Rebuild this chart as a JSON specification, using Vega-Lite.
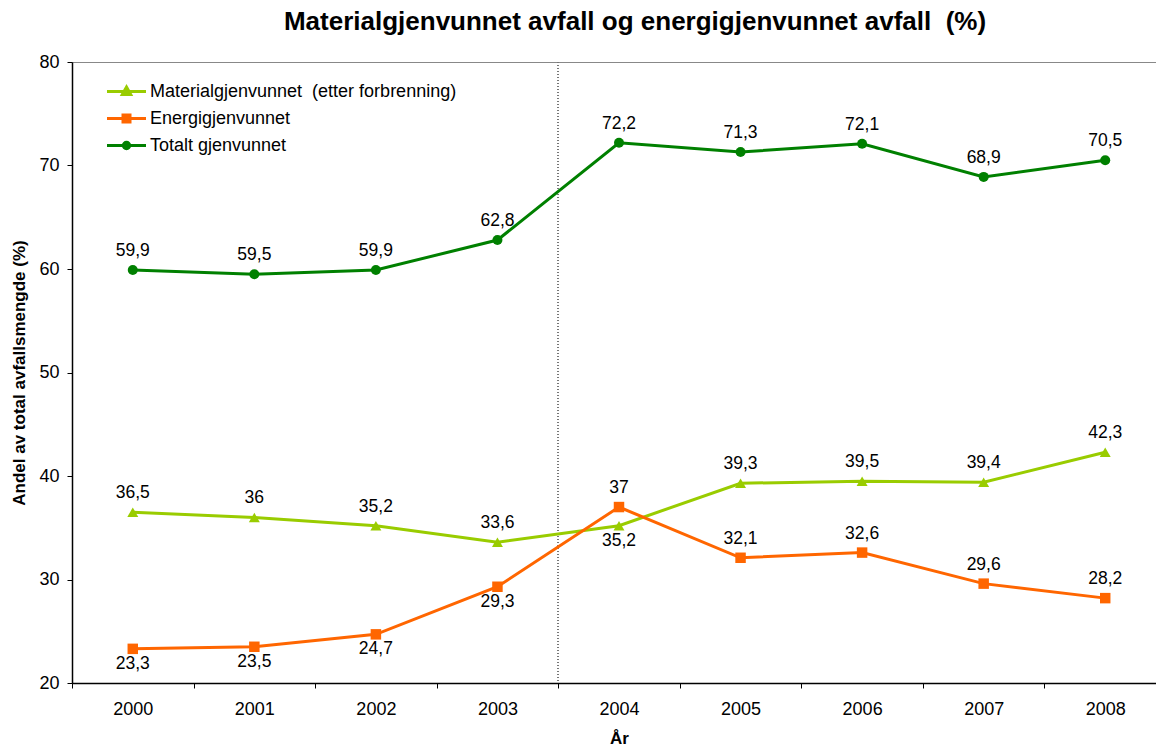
{
  "$schema": "https://vega.github.io/schema/vega-lite/v6.json",
  "autosize": "none",
  "width": 1084,
  "height": 621,
  "padding": {"left": 72, "top": 62, "right": 0, "bottom": 64},
  "background": "white",
  "config": {
    "font": "Liberation Sans",
    "view": {"stroke": "#888888", "strokeWidth": 1},
    "axis": {"labelFont": "Liberation Sans", "titleFont": "Liberation Sans", "labelColor": "black", "titleColor": "black", "domainColor": "black", "tickColor": "black", "grid": false, "labelFontSize": 18, "titleFontSize": 17, "titleFontWeight": "bold", "tickSize": 5, "domainWidth": 1.5}
  },
  "title": {"text": "Materialgjenvunnet avfall og energigjenvunnet avfall \u00a0(%)", "fontSize": 26, "fontWeight": "bold", "font": "Liberation Sans", "color": "black", "anchor": "middle", "dx": 21, "offset": 18},
  "resolve": {"legend": {"color": "independent", "shape": "independent", "size": "independent"}},
  "data": {"values": [
    {"year": "2000", "series": "Materialgjenvunnet \u00a0(etter forbrenning)", "value": 36.5, "label": "36,5"},
    {"year": "2001", "series": "Materialgjenvunnet \u00a0(etter forbrenning)", "value": 36.0, "label": "36"},
    {"year": "2002", "series": "Materialgjenvunnet \u00a0(etter forbrenning)", "value": 35.2, "label": "35,2"},
    {"year": "2003", "series": "Materialgjenvunnet \u00a0(etter forbrenning)", "value": 33.6, "label": "33,6"},
    {"year": "2004", "series": "Materialgjenvunnet \u00a0(etter forbrenning)", "value": 35.2, "label": "35,2"},
    {"year": "2005", "series": "Materialgjenvunnet \u00a0(etter forbrenning)", "value": 39.3, "label": "39,3"},
    {"year": "2006", "series": "Materialgjenvunnet \u00a0(etter forbrenning)", "value": 39.5, "label": "39,5"},
    {"year": "2007", "series": "Materialgjenvunnet \u00a0(etter forbrenning)", "value": 39.4, "label": "39,4"},
    {"year": "2008", "series": "Materialgjenvunnet \u00a0(etter forbrenning)", "value": 42.3, "label": "42,3"},
    {"year": "2000", "series": "Energigjenvunnet", "value": 23.3, "label": "23,3"},
    {"year": "2001", "series": "Energigjenvunnet", "value": 23.5, "label": "23,5"},
    {"year": "2002", "series": "Energigjenvunnet", "value": 24.7, "label": "24,7"},
    {"year": "2003", "series": "Energigjenvunnet", "value": 29.3, "label": "29,3"},
    {"year": "2004", "series": "Energigjenvunnet", "value": 37.0, "label": "37"},
    {"year": "2005", "series": "Energigjenvunnet", "value": 32.1, "label": "32,1"},
    {"year": "2006", "series": "Energigjenvunnet", "value": 32.6, "label": "32,6"},
    {"year": "2007", "series": "Energigjenvunnet", "value": 29.6, "label": "29,6"},
    {"year": "2008", "series": "Energigjenvunnet", "value": 28.2, "label": "28,2"},
    {"year": "2000", "series": "Totalt gjenvunnet", "value": 59.9, "label": "59,9"},
    {"year": "2001", "series": "Totalt gjenvunnet", "value": 59.5, "label": "59,5"},
    {"year": "2002", "series": "Totalt gjenvunnet", "value": 59.9, "label": "59,9"},
    {"year": "2003", "series": "Totalt gjenvunnet", "value": 62.8, "label": "62,8"},
    {"year": "2004", "series": "Totalt gjenvunnet", "value": 72.2, "label": "72,2"},
    {"year": "2005", "series": "Totalt gjenvunnet", "value": 71.3, "label": "71,3"},
    {"year": "2006", "series": "Totalt gjenvunnet", "value": 72.1, "label": "72,1"},
    {"year": "2007", "series": "Totalt gjenvunnet", "value": 68.9, "label": "68,9"},
    {"year": "2008", "series": "Totalt gjenvunnet", "value": 70.5, "label": "70,5"}
  ]},
  "encoding": {
    "x": {"field": "year", "type": "ordinal", "bandPosition": 0.5,
      "scale": {"type": "band", "range": [0, 1094], "paddingInner": 0, "paddingOuter": 0},
      "axis": {"title": "År", "labelAngle": 0, "tickBand": "extent", "labelPadding": 12, "titlePadding": 12}},
    "y": {"field": "value", "type": "quantitative",
      "scale": {"domain": [20, 80], "nice": false, "zero": false},
      "axis": {"title": "Andel av total avfallsmengde (%)", "values": [20, 30, 40, 50, 60, 70, 80], "labelPadding": 8, "titlePadding": 10}}
  },
  "layer": [
    {
      "mark": {"type": "rule", "strokeDash": [1, 2], "color": "#777777", "strokeWidth": 1},
      "encoding": {"x": {"datum": "2004", "type": "ordinal", "bandPosition": 0}, "y": null}
    },
    {
      "mark": {"type": "line", "strokeWidth": 3},
      "encoding": {
        "color": {"field": "series", "type": "nominal",
          "scale": {"domain": ["Materialgjenvunnet \u00a0(etter forbrenning)", "Energigjenvunnet", "Totalt gjenvunnet"], "range": ["#99CC00", "#FF6600", "#008000"]},
          "legend": {"title": null, "orient": "none", "legendX": 43, "legendY": 18, "padding": 0,
            "labelFontSize": 18, "labelFont": "Liberation Sans", "labelColor": "black", "labelOffset": 12, "labelLimit": 0,
            "symbolSize": 400, "rowPadding": 6, "symbolStrokeWidth": 3,
            "encode": {"symbols": {"update": {
              "shape": {"signal": "datum.value == 'Energigjenvunnet' ? 'M-1.95,0L1.95,0M-0.35,-0.35L0.35,-0.35L0.35,0.35L-0.35,0.35Z' : datum.value == 'Totalt gjenvunnet' ? 'M-1.95,0L1.95,0M0.32,0A0.32,0.32 0 1,1 -0.32,0A0.32,0.32 0 1,1 0.32,0Z' : 'M-1.95,0L1.95,0M0,-0.45L0.42,0.3L-0.42,0.3Z'"},
              "fill": {"signal": "datum.value == 'Energigjenvunnet' ? '#FF6600' : datum.value == 'Totalt gjenvunnet' ? '#008000' : '#99CC00'"},
              "stroke": {"signal": "datum.value == 'Energigjenvunnet' ? '#FF6600' : datum.value == 'Totalt gjenvunnet' ? '#008000' : '#99CC00'"},
              "strokeWidth": {"value": 3},
              "fillOpacity": {"value": 1},
              "opacity": {"value": 1}
            }}}}
        }
      }
    },
    {
      "mark": {"type": "point", "filled": true, "opacity": 1},
      "encoding": {
        "color": {"field": "series", "type": "nominal", "legend": null},
        "shape": {"field": "series", "type": "nominal", "legend": null,
          "scale": {"domain": ["Materialgjenvunnet \u00a0(etter forbrenning)", "Energigjenvunnet", "Totalt gjenvunnet"], "range": ["triangle-up", "square", "circle"]}},
        "size": {"field": "series", "type": "nominal", "legend": null,
          "scale": {"domain": ["Materialgjenvunnet \u00a0(etter forbrenning)", "Energigjenvunnet", "Totalt gjenvunnet"], "range": [120, 100, 85]}}
      }
    },
    {
      "transform": [{"filter": "datum.series == 'Totalt gjenvunnet' || (datum.series == 'Energigjenvunnet' && toNumber(datum.year) >= 2004) || (datum.series != 'Energigjenvunnet' && datum.year != '2004')"}],
      "mark": {"type": "text", "baseline": "middle", "dy": -19, "fontSize": 17.5, "font": "Liberation Sans", "color": "black"},
      "encoding": {"text": {"field": "label"}}
    },
    {
      "transform": [{"filter": "(datum.series == 'Energigjenvunnet' && toNumber(datum.year) < 2004) || (datum.series != 'Energigjenvunnet' && datum.series != 'Totalt gjenvunnet' && datum.year == '2004')"}],
      "mark": {"type": "text", "baseline": "middle", "dy": 15, "fontSize": 17.5, "font": "Liberation Sans", "color": "black"},
      "encoding": {"text": {"field": "label"}}
    }
  ]
}
